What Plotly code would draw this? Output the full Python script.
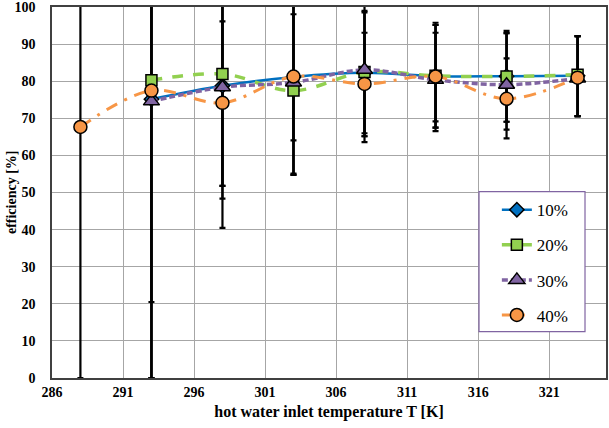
import plotly.graph_objects as go

# ---- data ----
temps_all = [288, 293, 298, 303, 308, 313, 318, 323]
temps = [293, 298, 303, 308, 313, 318, 323]

eff_10 = [75.2, 78.8, 81.2, 82.3, 81.4, 81.4, 81.5]
eff_20 = [80.3, 82.0, 77.5, 82.5, 81.5, 81.3, 81.8]
eff_30 = [74.6, 78.4, 79.7, 83.1, 80.4, 79.1, 80.8]
eff_40 = [67.7, 77.5, 74.2, 81.3, 79.3, 81.3, 75.3, 81.0]

# error bar ends (upper / lower)
up_10 = [110, 96.2, 98.1, 98.6, 95.2, 93.0, 92.2]
lo_10 = [0, 51.8, 64.1, 66.0, 67.5, 69.1, 70.6]
up_20 = [110, 110, 101, 99.0, 95.8, 93.6, 92.2]
lo_20 = [0, 51.8, 55.1, 65.2, 66.6, 67.0, 70.6]
up_30 = [110, 110, 102, 101, 93.1, 86.2, 92.2]
lo_30 = [20.5, 48.4, 54.8, 63.6, 69.2, 69.1, 70.6]
up_40 = [110, 110, 110, 100.5, 93.1, 95.2, 93.0, 92.2]
lo_40 = [0, 0, 40.5, 54.8, 65.2, 67.5, 64.6, 70.6]

x_ticks = [286, 291, 296, 301, 306, 311, 316, 321]
y_ticks = [0, 10, 20, 30, 40, 50, 60, 70, 80, 90, 100]

names = ["10%", "20%", "30%", "40%"]
colors = ["#0070C0", "#92D050", "#8064A2", "#F79646"]

series = [
    (temps, eff_10, up_10, lo_10, "diamond", "solid", 2.5, 11),
    (temps, eff_20, up_20, lo_20, "square", "dash", 3.5, 11),
    (temps, eff_30, up_30, lo_30, "triangle-up", "6px,3px", 3.5, 14),
    (temps_all, eff_40, up_40, lo_40, "circle", "12px,8px,3px,8px", 3, 13),
]

fig = go.Figure()

# error bars first (behind all marks)
for (xs, ys, up, lo, sym, dash, lw, ms) in series:
    fig.add_trace(go.Scatter(
        x=xs, y=ys, mode="markers",
        marker=dict(size=1, opacity=0),
        error_y=dict(type="data", symmetric=False,
                     array=[u - v for u, v in zip(up, ys)],
                     arrayminus=[v - l for v, l in zip(ys, lo)],
                     color="black", thickness=2.2, width=3),
        showlegend=False, hoverinfo="skip"))

for i, (xs, ys, up, lo, sym, dash, lw, ms) in enumerate(series):
    fig.add_trace(go.Scatter(
        x=xs, y=ys, name=names[i], mode="lines+markers",
        legendgroup=names[i],
        line=dict(color=colors[i], width=lw, dash=dash, shape="spline", smoothing=1),
        marker=dict(symbol=sym, size=ms, color=colors[i],
                    line=dict(color="black", width=1.5)),
    ))

font_serif = "Liberation Serif"

# legend frame (decorative box)
fig.add_shape(type="rect", xref="paper", yref="paper",
              x0=0.7708, x1=0.9621, y0=0.1248, y1=0.5025,
              line=dict(color="#8064A2", width=1.2), fillcolor="white", layer="above")

# y-axis title as rotated text
fig.add_annotation(text="efficiency [%]", xref="paper", yref="paper",
                   x=-0.073, y=0.5, textangle=-90, showarrow=False,
                   xanchor="center", yanchor="middle",
                   font=dict(family=font_serif, size=14, weight="bold", color="black"))

fig.update_layout(
    width=609, height=428,
    margin=dict(l=52, r=3, t=7, b=50),
    paper_bgcolor="white", plot_bgcolor="white",
    font=dict(family=font_serif, color="black"),
    showlegend=True,
    legend=dict(x=0.803, y=0.501, xanchor="left", yanchor="top",
                borderwidth=0, bgcolor="rgba(0,0,0,0)",
                font=dict(family=font_serif, size=17),
                tracegroupgap=10, itemwidth=30),
    xaxis=dict(range=[286, 325], tickmode="array", tickvals=x_ticks,
               ticktext=[str(v) for v in x_ticks],
               showgrid=True, gridcolor="#A6A6A6", gridwidth=1,
               showline=True, linecolor="#404040", linewidth=1.5, mirror=True,
               ticks="", zeroline=False, ticklabelstandoff=0, automargin=False,
               ticklabeloverflow="allow",
               tickfont=dict(family=font_serif, size=14, weight="bold"),
               title=dict(text="hot water inlet temperature T [K]",
                          font=dict(family=font_serif, size=16, weight="bold"),
                          standoff=7)),
    yaxis=dict(range=[0, 100.05], tickmode="array", tickvals=y_ticks,
               ticktext=[str(v) for v in y_ticks],
               showgrid=True, gridcolor="#A6A6A6", gridwidth=1,
               showline=True, linecolor="#404040", linewidth=1.5, mirror=True,
               ticks="", zeroline=False, ticklabelstandoff=12, automargin=False,
               ticklabeloverflow="allow",
               tickfont=dict(family=font_serif, size=14, weight="bold")),
)

fig.write_html("out.html", config={"displayModeBar": False},
               post_script="document.body.style.margin='0';")
